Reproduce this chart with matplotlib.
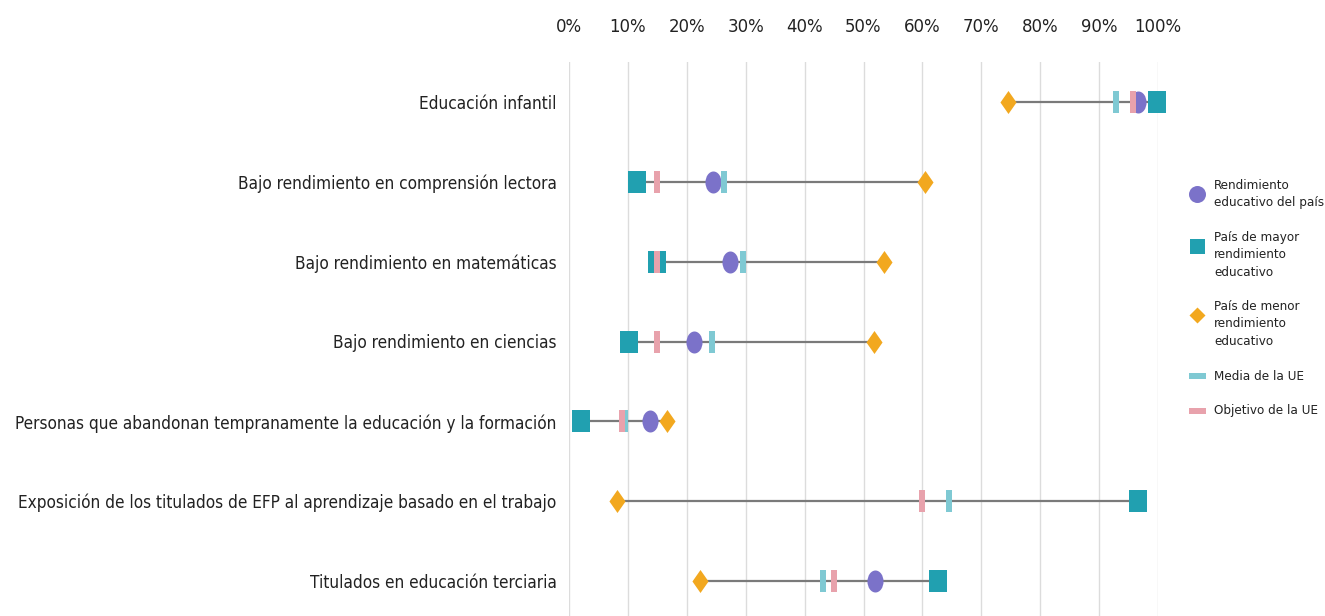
import matplotlib
matplotlib.use("Agg")
import matplotlib.pyplot as plt
from matplotlib.path import Path
from matplotlib import font_manager
from matplotlib.font_manager import FontProperties
import numpy as np
import os

categories = [
    "Educación infantil",
    "Bajo rendimiento en comprensión lectora",
    "Bajo rendimiento en matemáticas",
    "Bajo rendimiento en ciencias",
    "Personas que abandonan tempranamente la educación y la formación",
    "Exposición de los titulados de EFP al aprendizaje basado en el trabajo",
    "Titulados en educación terciaria",
]
pais = [96.6, 24.5, 27.3, 21.3, 13.7, np.nan, 51.9]
mayor = [99.8, 11.5, 15.0, 10.2, 2.1, 96.6, 62.7]
menor = [74.5, 60.5, 53.5, 51.7, 16.6, 8.1, 22.3]
media_ue = [92.9, 26.3, 29.5, 24.3, 9.5, 64.5, 43.1]
objetivo_ue = [95.8, 15.0, 15.0, 15.0, 9.0, 60.0, 45.0]
xticks = [0, 10, 20, 30, 40, 50, 60, 70, 80, 90, 100]
xtick_labels = [f"{t}%" for t in xticks]
legend_labels = ["Rendimiento\neducativo del país",
                 "País de mayor\nrendimiento\neducativo",
                 "País de menor\nrendimiento\neducativo",
                 "Media de la UE",
                 "Objetivo de la UE"]

c_pais = "#7b72c9"
c_mayor = "#21a0b0"
c_menor = "#f2a81f"
c_media = "#7fc9d3"
c_obj = "#e8a2ac"
c_line = "#7a7a7a"
c_text = "#222222"

# pick a condensed font if one is installed
prefs = ["NotoSans-Condensed.ttf", "DejaVuSansCondensed.ttf", "RobotoCondensed-Regular.ttf",
         "OpenSans_Condensed-Regular.ttf", "LiberationSansNarrow-Regular.ttf",
         "Roboto_Condensed-Regular.ttf", "OpenSans-CondensedRegular.ttf"]
files = {os.path.basename(f.fname): f.fname for f in font_manager.fontManager.ttflist}
fpath = None
for p in prefs:
    if p in files:
        fpath = files[p]
        break
if fpath is None:
    for b, full in files.items():
        lb = b.lower()
        if ("condensed" in lb or "narrow" in lb) and not any(k in lb for k in ["bold", "italic", "light", "black", "thin", "medium", "semi", "extra", "oblique"]):
            fpath = full
            break
if fpath is not None:
    fp = FontProperties(fname=fpath)
else:
    fp = FontProperties(family="DejaVu Sans")

def rect_path(w, h):
    return Path([(-w/2, -h/2), (w/2, -h/2), (w/2, h/2), (-w/2, h/2), (-w/2, -h/2)],
                [Path.MOVETO, Path.LINETO, Path.LINETO, Path.LINETO, Path.CLOSEPOLY])

circ = Path.unit_circle()
ell_path = Path(circ.vertices * np.array([0.73, 1.0]), circ.codes)
sq_path = rect_path(0.74, 1.0)
dia_path = Path([(0, -0.5), (0.35, 0), (0, 0.5), (-0.35, 0), (0, -0.5)],
                [Path.MOVETO, Path.LINETO, Path.LINETO, Path.LINETO, Path.CLOSEPOLY])
bar_path = rect_path(0.23, 1.0)
hbar_path = rect_path(1.0, 0.4)
leg_dia = Path([(0, -0.5), (0.5, 0), (0, 0.5), (-0.5, 0), (0, -0.5)],
               [Path.MOVETO, Path.LINETO, Path.LINETO, Path.LINETO, Path.CLOSEPOLY])

W, H = 1325, 616
fig = plt.figure(figsize=(W/100, H/100), dpi=100)
x0, x1 = 569, 1158
top, bot = 62, 621
ax = fig.add_axes([x0/W, (H-bot)/H, (x1-x0)/W, (bot-top)/H])
n = len(categories)
y = np.arange(n)
ax.set_xlim(0, 100)
ax.set_ylim(n-0.5, -0.5)

ms = 22*0.72
for i in range(n):
    vals = [v for v in (pais[i], mayor[i], menor[i]) if not np.isnan(v)]
    ax.plot([min(vals), max(vals)], [y[i], y[i]], color=c_line, lw=1.6, zorder=2, clip_on=False)

kw = dict(linestyle="none", markeredgewidth=0, clip_on=False)
ax.plot(pais, y, marker=ell_path, markersize=ms, color=c_pais, zorder=3, **kw)
ax.plot(mayor, y, marker=sq_path, markersize=23*0.72, color=c_mayor, zorder=4, **kw)
ax.plot(menor, y, marker=dia_path, markersize=23*0.72, color=c_menor, zorder=4, **kw)
ax.plot(media_ue, y, marker=bar_path, markersize=ms, color=c_media, zorder=5, **kw)
ax.plot(objetivo_ue, y, marker=bar_path, markersize=ms, color=c_obj, zorder=6, **kw)

ax.set_xticks(xticks)
ax.set_xticklabels(xtick_labels, fontproperties=fp)
ax.xaxis.tick_top()
ax.tick_params(axis="x", length=0, pad=19, labelsize=15, labelcolor=c_text)
ax.set_yticks(y)
ax.set_yticklabels(categories, fontproperties=fp)
ax.tick_params(axis="y", length=0, pad=9, labelsize=15, labelcolor=c_text)
ax.grid(axis="x", color="#dcdcdc", lw=1)
ax.set_axisbelow(True)
for s in ax.spines.values():
    s.set_visible(False)

# fit label font sizes to reference widths
fig.canvas.draw()
r = fig.canvas.get_renderer()
wpx = ax.get_yticklabels()[4].get_window_extent(r).width
fs = 15 * 545.0 / wpx
for t in ax.get_yticklabels():
    t.set_fontsize(fs)
wt = ax.get_xticklabels()[10].get_window_extent(r).width
fsx = 15 * 47.0 / wt
for t in ax.get_xticklabels():
    t.set_fontsize(fsx)

# legend drawn in pixel layout on an overlay axes
lax = fig.add_axes([0, 0, 1, 1])
lax.set_xlim(0, W)
lax.set_ylim(H, 0)
lax.axis("off")
leg_handles = [
    dict(marker="o", markersize=17*0.72, color=c_pais),
    dict(marker="s", markersize=15*0.72, color=c_mayor),
    dict(marker=leg_dia, markersize=16*0.72, color=c_menor),
    dict(marker=hbar_path, markersize=17*0.72, color=c_media),
    dict(marker=hbar_path, markersize=17*0.72, color=c_obj),
]
line_h = 17.3
gap = 17.5
ycur = 176.5
lfs = 9.6
fpl = fp.copy()
fpl.set_size(lfs)
for lbl, hd in zip(legend_labels, leg_handles):
    nl = lbl.count("\n") + 1
    marker_y = ycur + line_h * (1.0 if nl > 1 else 0.5)
    lax.plot([1197], [marker_y], linestyle="none", markeredgewidth=0, **hd)
    lax.text(1214, ycur + line_h * nl / 2, lbl, fontproperties=fpl, color=c_text,
             va="center", ha="left", linespacing=1.45)
    ycur += line_h * nl + gap

fig.savefig("out.png", dpi=100, facecolor="white")
